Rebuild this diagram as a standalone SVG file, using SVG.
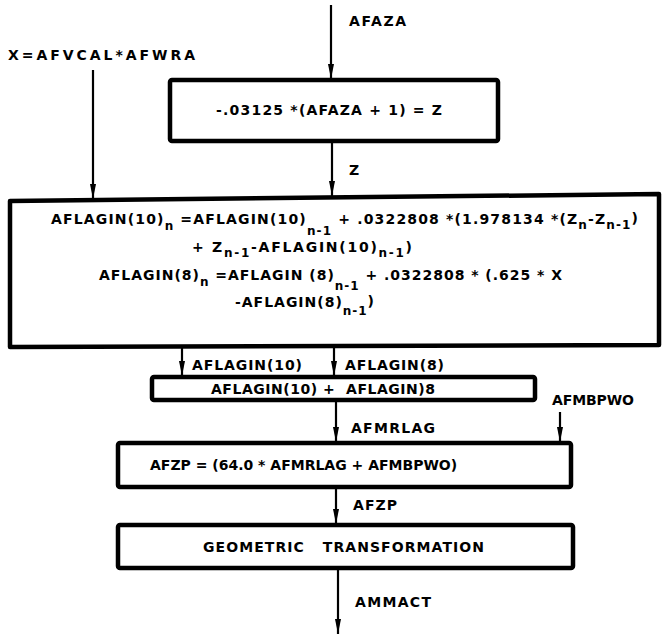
<svg xmlns="http://www.w3.org/2000/svg" width="663" height="635" viewBox="0 0 663 635">
  <style>
    .box { fill: #ffffff; stroke: #000000; stroke-width: 4.5; stroke-linejoin: round; }
    .wire { fill: none; stroke: #000000; stroke-width: 2.2; }
    .t { font-family: "DejaVu Sans", "Liberation Sans", Arial, sans-serif; font-weight: bold; font-size: 14px; fill: #000000; white-space: pre; }
    .sub { font-size: 12px; }
  </style>
  <defs>
    <!-- narrow filled arrowhead, tip at the end of the line -->
    <marker id="arrow" viewBox="0 0 15 6" refX="15" refY="3" markerWidth="15" markerHeight="6" markerUnits="userSpaceOnUse" orient="auto">
      <path d="M0,0 L15,3 L0,6 Z" fill="#000000"/>
    </marker>
  </defs>
  <rect width="663" height="635" fill="#ffffff"/>

  <!-- connectors and their labels -->
  <g id="connectors">
    <line class="wire" x1="331" y1="5" x2="331" y2="79" marker-end="url(#arrow)"/>
    <text class="t" x="349" y="26" textLength="57" lengthAdjust="spacing">AFAZA</text>

    <line class="wire" x1="93" y1="70" x2="93" y2="199" marker-end="url(#arrow)"/>
    <text class="t" x="8" y="60" textLength="187" lengthAdjust="spacing">X=AFVCAL*AFWRA</text>

    <line class="wire" x1="332" y1="143" x2="332" y2="196" marker-end="url(#arrow)"/>
    <text class="t" x="349" y="175">Z</text>

    <line class="wire" x1="182" y1="348" x2="182" y2="376" marker-end="url(#arrow)"/>
    <text class="t" x="192" y="370" textLength="110" lengthAdjust="spacing">AFLAGIN(10)</text>

    <line class="wire" x1="334" y1="348" x2="334" y2="376" marker-end="url(#arrow)"/>
    <text class="t" x="345" y="370" textLength="99" lengthAdjust="spacing">AFLAGIN(8)</text>

    <line class="wire" x1="336" y1="402" x2="336" y2="442" marker-end="url(#arrow)"/>
    <text class="t" x="351" y="433" textLength="84" lengthAdjust="spacing">AFMRLAG</text>

    <line class="wire" x1="560" y1="412" x2="560" y2="442" marker-end="url(#arrow)"/>
    <text class="t" x="552" y="405" textLength="82" lengthAdjust="spacing">AFMBPWO</text>

    <line class="wire" x1="336" y1="489" x2="336" y2="524" marker-end="url(#arrow)"/>
    <text class="t" x="353" y="510" textLength="44" lengthAdjust="spacing">AFZP</text>

    <line class="wire" x1="338" y1="570" x2="338" y2="634" marker-end="url(#arrow)"/>
    <text class="t" x="355" y="607" textLength="76" lengthAdjust="spacing">AMMACT</text>
  </g>

  <!-- Z scaling -->
  <g id="scale-z">
    <rect class="box" x="170" y="80" width="328" height="61" rx="2"/>
    <text class="t" x="216" y="115" textLength="226" lengthAdjust="spacing">-.03125 *(AFAZA + 1) = Z</text>
  </g>

  <!-- lag filters -->
  <g id="lag-filters">
    <path class="box" d="M10,201 L659,194 L659,345 L10,347 Z"/>
    <text class="t" x="51" y="224" textLength="587" lengthAdjust="spacing">AFLAGIN(10)<tspan class="sub" dy="6">n</tspan><tspan dy="-6"> =AFLAGIN(10)</tspan><tspan class="sub" dy="11">n-1</tspan><tspan dy="-11"> + .0322808 *(1.978134 *(Z</tspan><tspan class="sub" dy="5">n</tspan><tspan dy="-5">-Z</tspan><tspan class="sub" dy="5">n-1</tspan><tspan dy="-6">)</tspan></text>
    <text class="t" x="192" y="252" textLength="220" lengthAdjust="spacing">+ Z<tspan class="sub" dy="5">n-1</tspan><tspan dy="-5">-AFLAGIN(10)</tspan><tspan class="sub" dy="5">n-1</tspan><tspan dy="-5">)</tspan></text>
    <text class="t" x="99" y="280" textLength="463" lengthAdjust="spacing">AFLAGIN(8)<tspan class="sub" dy="6">n</tspan><tspan dy="-6"> =AFLAGIN (8)</tspan><tspan class="sub" dy="10">n-1</tspan><tspan dy="-10"> + .0322808 * (.625 * X</tspan></text>
    <text class="t" x="235" y="307" textLength="139" lengthAdjust="spacing">-AFLAGIN(8)<tspan class="sub" dy="8">n-1</tspan><tspan dy="-9">)</tspan></text>
  </g>

  <!-- sum of lags -->
  <g id="sum-lags">
    <rect class="box" x="152" y="377" width="383" height="23" rx="2"/>
    <text class="t" x="211" y="394" textLength="224" lengthAdjust="spacing">AFLAGIN(10) +  AFLAGIN)8</text>
  </g>

  <!-- AFZP -->
  <g id="afzp">
    <rect class="box" x="118" y="443" width="453" height="44" rx="2"/>
    <text class="t" x="150" y="470">AFZP = (64.0 * AFMRLAG + AFMBPWO)</text>
  </g>

  <!-- geometric transformation -->
  <g id="geo-transform">
    <rect class="box" x="118" y="525" width="455" height="43" rx="2"/>
    <text class="t" x="203" y="552" textLength="281" lengthAdjust="spacing">GEOMETRIC   TRANSFORMATION</text>
  </g>
</svg>
